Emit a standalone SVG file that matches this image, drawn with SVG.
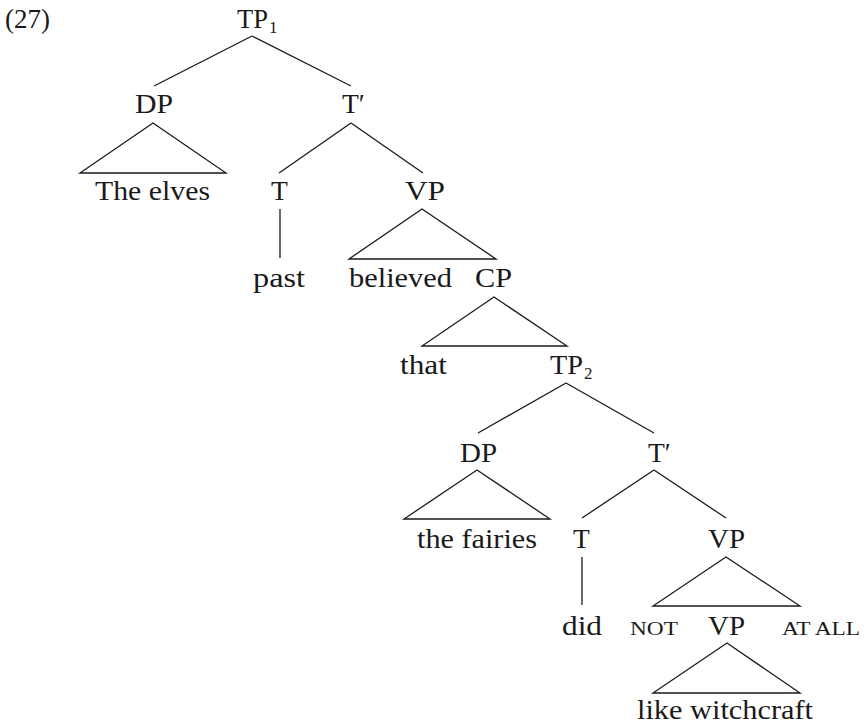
<svg xmlns="http://www.w3.org/2000/svg" width="864" height="727" viewBox="0 0 864 727">
<style>
text{font-family:"Liberation Serif","Times New Roman",serif;font-size:27.5px;fill:#1a1a1a}
.c{text-anchor:middle}
.sub{font-size:17px}
.sc{font-size:19px}
.e line,.e polygon{stroke:#1a1a1a;stroke-width:1.3;fill:none}
</style>
<rect width="864" height="727" fill="#fff"/>
<g class="e" id="connectors">
<line x1="252" y1="36" x2="154" y2="86"/>
<line x1="252" y1="36" x2="351" y2="86"/>
<polygon points="153,123 80,173 226,173"/>
<line x1="351" y1="123" x2="279" y2="173"/>
<line x1="351" y1="123" x2="423" y2="173"/>
<line x1="280" y1="209" x2="280" y2="258"/>
<polygon points="422,209 349,259 496,259"/>
<polygon points="494,297 422,346 567,346"/>
<line x1="566" y1="383" x2="478" y2="433"/>
<line x1="566" y1="383" x2="654" y2="433"/>
<polygon points="477,470 404,519 550,519"/>
<line x1="654" y1="470" x2="582" y2="518"/>
<line x1="654" y1="470" x2="726" y2="518"/>
<line x1="582" y1="557" x2="582" y2="605"/>
<polygon points="726,557 653,606 800,606"/>
<polygon points="727,643 653,693 800,693"/>
</g>
<g id="label27"><text x="5" y="28" textLength="45" lengthAdjust="spacingAndGlyphs">(27)</text></g>
<g id="TP1"><text x="237" y="28"><tspan textLength="31" lengthAdjust="spacingAndGlyphs">TP</tspan><tspan class="sub" x="269" y="33">1</tspan></text></g>
<g id="DP1"><text class="c" x="154" y="113" textLength="38" lengthAdjust="spacingAndGlyphs">DP</text></g>
<g id="Tbar1"><text x="342" y="113">T′</text></g>
<g id="theElves"><text class="c" x="152.5" y="200" textLength="115" lengthAdjust="spacingAndGlyphs">The elves</text></g>
<g id="T1"><text class="c" x="279.5" y="200">T</text></g>
<g id="VP1"><text class="c" x="425" y="200" textLength="40" lengthAdjust="spacingAndGlyphs">VP</text></g>
<g id="past"><text class="c" x="279" y="287" textLength="52" lengthAdjust="spacingAndGlyphs">past</text></g>
<g id="believed"><text class="c" x="400.5" y="287" textLength="103" lengthAdjust="spacingAndGlyphs">believed</text></g>
<g id="CP"><text class="c" x="493.5" y="287" textLength="37" lengthAdjust="spacingAndGlyphs">CP</text></g>
<g id="that"><text class="c" x="423.5" y="374" textLength="47" lengthAdjust="spacingAndGlyphs">that</text></g>
<g id="TP2"><text x="550" y="374"><tspan textLength="33" lengthAdjust="spacingAndGlyphs">TP</tspan><tspan class="sub" x="584" y="379">2</tspan></text></g>
<g id="DP2"><text class="c" x="478.5" y="462" textLength="37" lengthAdjust="spacingAndGlyphs">DP</text></g>
<g id="Tbar2"><text x="648" y="462">T′</text></g>
<g id="theFairies"><text class="c" x="477" y="548" textLength="120" lengthAdjust="spacingAndGlyphs">the fairies</text></g>
<g id="T2"><text class="c" x="581.5" y="548">T</text></g>
<g id="VP2"><text class="c" x="726.5" y="548" textLength="37" lengthAdjust="spacingAndGlyphs">VP</text></g>
<g id="did"><text class="c" x="582" y="635" textLength="40" lengthAdjust="spacingAndGlyphs">did</text></g>
<g id="not"><text class="c sc" x="654" y="635" textLength="48" lengthAdjust="spacingAndGlyphs">NOT</text></g>
<g id="VP3"><text class="c" x="726.5" y="635" textLength="37" lengthAdjust="spacingAndGlyphs">VP</text></g>
<g id="atAll"><text class="c sc" x="821" y="635" textLength="78" lengthAdjust="spacingAndGlyphs">AT ALL</text></g>
<g id="likeWitchcraft"><text class="c" x="725" y="719" textLength="176" lengthAdjust="spacingAndGlyphs">like witchcraft</text></g>
</svg>
